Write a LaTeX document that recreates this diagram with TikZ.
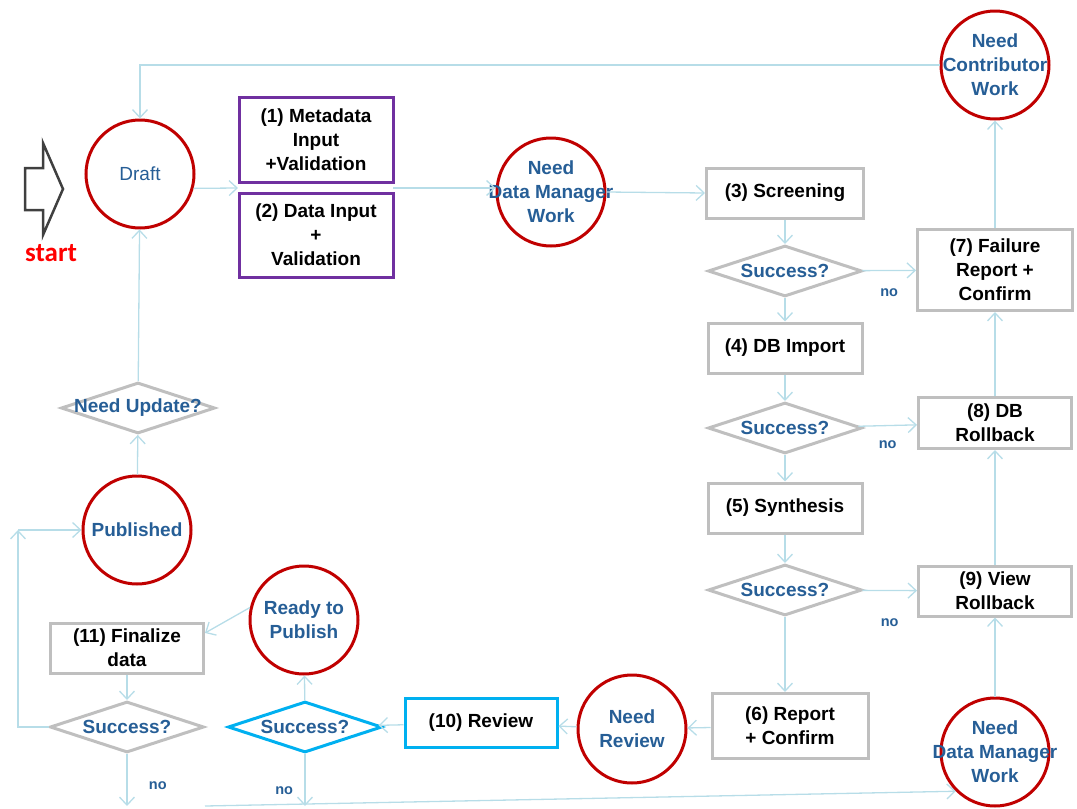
\documentclass[tikz,border=0pt]{standalone}
\usepackage{fontspec}
\setmainfont{Liberation Sans}
\newfontfamily\startfont{Carlito}
\usepackage{tikz}
\usetikzlibrary{shapes.geometric,arrows.meta}

\definecolor{redc}{RGB}{192,0,0}
\definecolor{textblue}{RGB}{38,94,150}
\definecolor{boxgray}{RGB}{191,191,191}
\definecolor{purp}{RGB}{112,48,160}
\definecolor{bluec}{RGB}{0,176,240}
\definecolor{linec}{RGB}{183,221,232}

\begin{document}
\begin{tikzpicture}[x=1pt, y=-1pt,
    font=\fontsize{19}{24}\selectfont\bfseries,
    state/.style = {draw=redc, line width=3pt, circle, minimum size=108pt, inner sep=0pt},
    lbl/.style = {text=textblue, align=center},
    task/.style = {draw=boxgray, line width=3pt, minimum width=154pt, minimum height=50pt, inner sep=0pt, align=center},
    check/.style = {draw=boxgray, line width=3pt, diamond, aspect=3, minimum width=154pt, minimum height=51pt, inner sep=0pt},
    flow/.style = {draw=linec, line width=1.3pt, -{Straight Barb[length=8pt, width=15pt]}},
    nolbl/.style = {text=textblue, font=\fontsize{14.5}{15}\selectfont\bfseries}]
        \useasboundingbox (0,0) rectangle (1077,809);

        % start
        \draw[draw=black!75, line width=2.5pt, line join=miter] (25,168) -- (43,168) -- (43,143) -- (63,189) -- (43,235) -- (43,210) -- (25,210) -- cycle;
        \node[text=red, font=\startfont\bfseries\fontsize{27}{27}\selectfont] (start) at (51,253) {start};

        % states
        \node[state, label={[lbl, font=\fontsize{19}{24}\selectfont\mdseries]center:Draft}] (draft) at (140,174) {};
        \node[state, label={[lbl]center:Need\\Data Manager\\Work}] (dm1) at (551,192) {};
        \node[state, label={[lbl]center:Need\\Contributor\\Work}] (cw) at (995,65) {};
        \node[state, label={[lbl]center:Need\\Review}] (nr) at (632,729) {};
        \node[state, label={[lbl]center:Need\\Data Manager\\Work}] (dm2) at (995,752) {};
        \node[state, label={[lbl]center:Ready to\\Publish}] (rtp) at (304,620) {};
        \node[state, label={[lbl]center:Published}] (pub) at (137,530) {};

        % tasks
        \node[task, draw=purp, minimum height=85pt] (meta) at (316,140) {(1) Metadata\\Input\\+Validation};
        \node[task, draw=purp, minimum height=84pt] (data) at (316,235) {(2) Data Input\\+\\Validation};
        \node[task, minimum width=157pt] (screen) at (785,193) {(3) Screening};
        \node[task] (imp) at (785,348) {(4) DB Import};
        \node[task] (syn) at (785,508) {(5) Synthesis};
        \node[task, minimum width=156pt, minimum height=65pt] (rep) at (790,726) {(6) Report\\+ Confirm};
        \node[task, minimum width=155pt, minimum height=81pt] (fail) at (995,270) {(7) Failure\\Report +\\Confirm};
        \node[task, minimum width=153pt, minimum height=51pt] (rb8) at (995,423) {(8) DB\\Rollback};
        \node[task, minimum width=153pt] (rb9) at (995,591) {(9) View\\Rollback};
        \node[task, draw=bluec, minimum width=152pt, minimum height=49pt] (rev) at (481,723) {(10) Review};
        \node[task, minimum width=153pt] (fin) at (127,648) {(11) Finalize\\data};

        % checks
        \node[check, label={[lbl]center:Success?}] (s1) at (785,271) {};
        \node[check, label={[lbl]center:Success?}] (s2) at (785,428) {};
        \node[check, label={[lbl]center:Success?}] (s3) at (785,590) {};
        \node[check, label={[lbl]center:Success?}] (s4) at (127,727) {};
        \node[check, draw=bluec, label={[lbl]center:Success?}] (s5) at (305,727) {};
        \node[check, label={[lbl]center:Need Update?}] (upd) at (138,408) {};

        % free ends
        \coordinate (inbox) at (238,188);
        \coordinate (outbox) at (393,188);
        \coordinate (end4) at (127,806);
        \coordinate (end5) at (305,806);
        \coordinate (botl) at (205,806);
        \coordinate (lc) at (18,530);

        % connectors
        \draw[flow] (cw.west) -| (draft.north);
        \draw[flow] (draft.-15) -- (inbox);
        \draw[flow] (outbox) -- (outbox -| dm1.west);
        \draw[flow] (dm1.east) -- (screen.west);
        \draw[flow] (screen) -- (s1);
        \draw[flow] (s1) -- node[nolbl, below=14pt] (no1) {no} (fail);
        \draw[flow] (s1) -- (imp);
        \draw[flow] (imp) -- (s2);
        \draw[flow] (s2) -- node[nolbl, below=11pt] (no2) {no} (rb8);
        \draw[flow] (s2) -- (syn);
        \draw[flow] (syn) -- (s3);
        \draw[flow] (s3) -- node[nolbl, below=24pt] (no3) {no} (rb9);
        \draw[flow] (s3.south) -- (s3.south |- rep.north);
        \draw[flow] (rep) -- (nr);
        \draw[flow] (nr) -- (rev);
        \draw[flow] (rev) -- (s5);
        \draw[flow] (s5) -- (rtp);
        \draw[flow] (rtp.167) -- ([yshift=15pt]fin.east);
        \draw[flow] (fin) -- (s4);
        \draw[flow] (s4.south) -- node[nolbl, pos=0.6, right=18pt] (no4) {no} (end4);
        \draw[flow] (s5.south) -- node[nolbl, pos=0.7, left=8pt] (no5) {no} (end5);
        \draw[flow] (botl) -- (dm2.225);
        \draw[flow] (dm2) -- (rb9);
        \draw[flow] (rb9) -- (rb8);
        \draw[flow] (rb8) -- (fail);
        \draw[flow] (fail) -- (cw);
        \draw[flow] (s4.west) -| (lc);
        \draw[flow] (lc) -- (pub.west);
        \draw[flow] (pub) -- (upd);
        \draw[flow] (upd) -- (draft);
    \end{tikzpicture}
\end{document}
